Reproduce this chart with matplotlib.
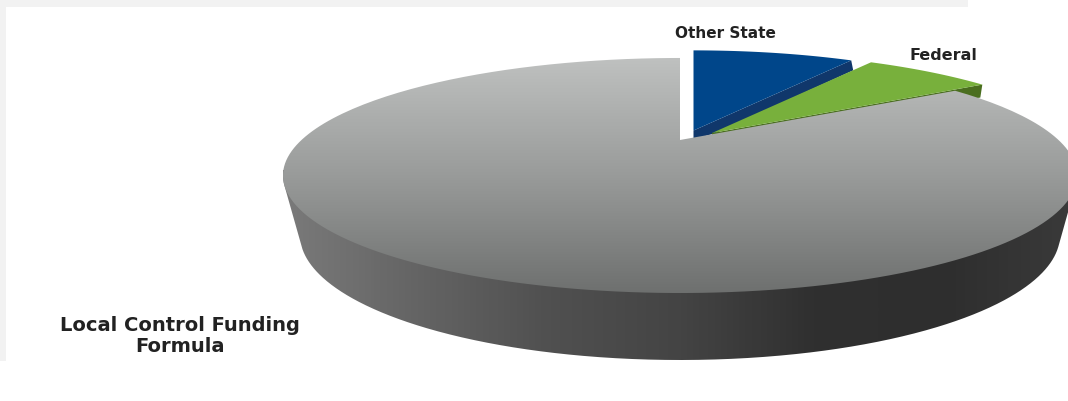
import numpy as np
import matplotlib
matplotlib.use("Agg")
import matplotlib.pyplot as plt
from matplotlib.colors import LinearSegmentedColormap
from matplotlib.patches import PathPatch, Polygon, Rectangle
from matplotlib.path import Path

categories = ["Other State", "Federal", "Local Control Funding\nFormula"]
shares = [9, 7, 84]

W, H = 1068, 401
CX, CY = 680, 140      # hub of the disc on screen
RX, RY = 378.5, 106.8
TILT = 0.302           # perspective strength

plt.rcParams["font.family"] = ["DejaVu Sans"]


def project(theta, r=1.0, dx=0.0, dy=0.0):
    # theta is in degrees, clockwise from 12 o'clock
    t = np.radians(theta)
    u, v = r * np.sin(t), r * np.cos(t)
    w = 1 + TILT * v
    return CX + dx + RX * u / w, CY + dy - RY * v / w


def wedge_points(a, b, r=1.0, dx=0.0, dy=0.0):
    th = np.linspace(a, b, 200)
    x, y = project(th, r, dx, dy)
    x = np.r_[CX + dx, x]
    y = np.r_[CY + dy, y]
    return np.column_stack([x, y])


def lower_hull(pts):
    # lower edge on screen (largest y) of a point cloud, left to right
    pts = pts[np.lexsort((pts[:, 1], pts[:, 0]))]
    hull = []
    for p in pts:
        while len(hull) > 1:
            a, b = hull[-2], hull[-1]
            if (b[0] - a[0]) * (p[1] - a[1]) - (b[1] - a[1]) * (p[0] - a[0]) >= 0:
                hull.pop()
            else:
                break
        hull.append(p)
    return np.array(hull)


def gradient_fill(ax, pts, colors, horizontal=False):
    # gradient image clipped to a polygon
    ramp = np.linspace(0, 1, 256)
    ramp = ramp[None, :] if horizontal else ramp[:, None]
    cmap = LinearSegmentedColormap.from_list("g", colors)
    xs, ys = pts[:, 0], pts[:, 1]
    im = ax.imshow(ramp, cmap=cmap, aspect="auto", zorder=2, interpolation="bilinear",
                   extent=[xs.min(), xs.max(), ys.max(), ys.min()])
    im.set_clip_path(PathPatch(Path(np.vstack([pts, pts[0]])), transform=ax.transData))
    return im


fig = plt.figure(figsize=(W / 100, H / 100), dpi=100, facecolor="white")
ax = fig.add_axes([0, 0, 1, 1])

# pale page strips along the top and left
ax.add_patch(Rectangle((0, 0), 968, 7, color="#f2f2f2", lw=0, zorder=1))
ax.add_patch(Rectangle((0, 0), 6, 361, color="#f2f2f2", lw=0, zorder=1))

# side wall: hull of the top rim and the lower rim
th = np.linspace(0, 360, 1441)
tx, ty = project(th)
bx, by = 680 + 380 * np.sin(np.radians(th)), 235 + 125 * np.cos(np.radians(th))
cloud = np.vstack([np.column_stack([tx, ty]), np.column_stack([bx, by])])
edge = lower_hull(cloud)
wall = np.vstack([edge, [[edge[-1, 0], 170], [edge[0, 0], 170]]])
gradient_fill(ax, wall, ["#7a7a7a", "#646464", "#505050", "#444444", "#303030", "#2e2e2e", "#3a3a3a"],
              horizontal=True)

ends = np.cumsum(shares) * 3.6
starts = np.r_[0, ends[:-1]]

blue = wedge_points(starts[0], ends[0], 0.97, 13.5, -9.5)
green = wedge_points(starts[1], ends[1], 0.98, 32, -7)

# Other State: pulled out, with its cut face below
tip, rim = blue[0], blue[-1]
ax.add_patch(Polygon([tip, rim, rim + [2, 10], green[0] + [4, 0], tip + [0, 9]],
                     color="#10376b", lw=0, zorder=3))
ax.add_patch(Polygon(blue, color="#00468a", lw=0, zorder=4))

# Federal: pulled out further, same idea
tip, rim = green[0], green[-1]
ax.add_patch(Polygon([tip, rim, rim + [-2, 13], tip + [0, 2]], color="#4a6e1f", lw=0, zorder=3))
ax.add_patch(Polygon(green, color="#78b03c", lw=0, zorder=4))

# Local Control Funding Formula: the big top face
gradient_fill(ax, wedge_points(starts[2], ends[2]), ["#bfc1c0", "#999b9a", "#6e706f"]).set_zorder(5)

ax.text(725.5, 33, categories[0], fontsize=11, fontweight="bold", color="#222222",
        ha="center", va="center", zorder=6)
ax.text(943, 55, categories[1], fontsize=11.5, fontweight="bold", color="#222222",
        ha="center", va="center", zorder=6)
ax.text(180, 336, categories[2], fontsize=14, fontweight="bold", color="#222222",
        ha="center", va="center", linespacing=1.15, zorder=6)

ax.set_xlim(0, W)
ax.set_ylim(H, 0)
ax.axis("off")
fig.savefig("out.png", dpi=100)
